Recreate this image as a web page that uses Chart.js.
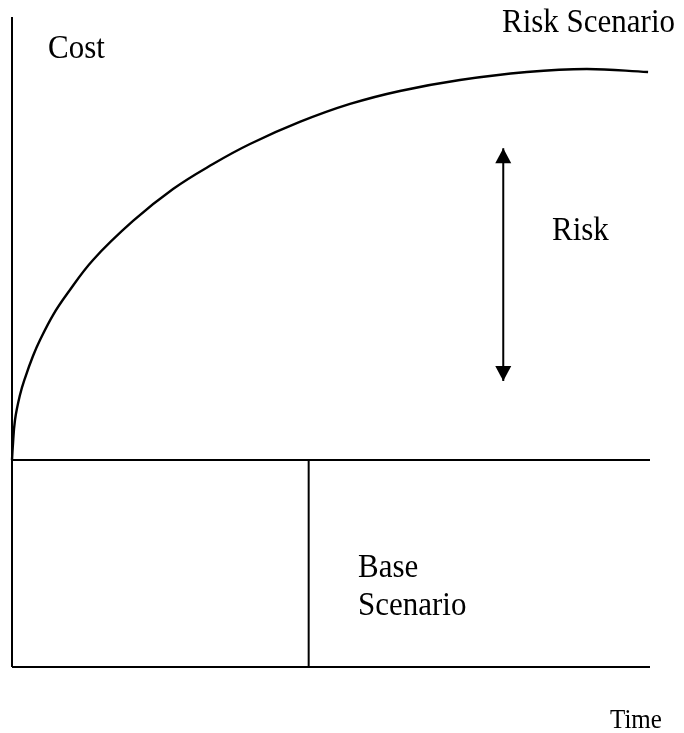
<!DOCTYPE html>
<html>
<head>
<meta charset="utf-8">
<script src="https://cdn.jsdelivr.net/npm/chart.js@4.4.0/dist/chart.umd.min.js"></script>
<style>
  html, body { margin: 0; padding: 0; background: #fff; }
  #wrap { width: 684px; height: 733px; }
</style>
</head>
<body>
<div id="wrap"><canvas id="chart" width="684" height="733"></canvas></div>
<script>
// Risk scenario curve (time 0-100, cost 0-100)
const curveTime = [0, 0.11, 0.47, 1.25, 2.04, 3.29, 4.39, 6.43, 8.62, 12.7, 18.97, 25.24, 31.5, 37.3, 45.1, 52.98, 60.8, 70.2, 80.7, 90.1, 99.7];
const curveCost = [31.85, 33.69, 38.0, 41.85, 44.46, 47.85, 50.31, 54.15, 57.38, 62.62, 68.62, 73.54, 77.38, 80.46, 83.85, 86.62, 88.62, 90.31, 91.54, 92.0, 91.54];

// base scenario level and the split of the base box
const baseCost = 31.85;
const splitTime = 46.5;

// the risk arrow (time, top and bottom tips)
const arrowTime = 77;
const arrowCost = [79.8, 44.0];

const axisRange = [0, 100];

const labelTexts = ['Cost', 'Risk Scenario', 'Risk', 'Base', 'Scenario', 'Time'];

function seg(x1, y1, x2, y2) {
  return [{ x: x1, y: y1 }, { x: x2, y: y2 }];
}

function lineSet(data, extra) {
  return Object.assign({
    data: data,
    borderColor: '#000',
    borderWidth: 2,
    pointRadius: 0,
    fill: false,
    clip: false
  }, extra || {});
}

const textPlugin = {
  id: 'texts',
  afterDraw(chart) {
    const ctx = chart.ctx;
    const spots = [
      { x: 48, y: 58, size: 31 },
      { x: 502, y: 32, size: 31 },
      { x: 552, y: 240, size: 31 },
      { x: 358, y: 577, size: 31 },
      { x: 358, y: 615, size: 31 },
      { x: 610, y: 728, size: 25 }
    ];
    ctx.save();
    ctx.fillStyle = '#000';
    ctx.textBaseline = 'alphabetic';
    ctx.textAlign = 'left';
    labelTexts.forEach((t, i) => {
      const s = spots[i];
      ctx.font = s.size + 'px "Liberation Serif", "Times New Roman", serif';
      // the original text is a little taller than plain Times
      ctx.save();
      ctx.translate(s.x, s.y);
      ctx.scale(1, 1.08);
      ctx.fillText(t, 0, 0);
      ctx.restore();
    });
    ctx.restore();
  }
};

const arrowPlugin = {
  id: 'arrowHeads',
  afterDatasetsDraw(chart) {
    const meta = chart.getDatasetMeta(4);
    const pts = meta.data;
    if (!pts || pts.length < 2) return;
    const ctx = chart.ctx;
    const w = 8, h = 15;
    ctx.save();
    ctx.fillStyle = '#000';
    // top head points up
    let p = pts[0];
    ctx.beginPath();
    ctx.moveTo(p.x, p.y);
    ctx.lineTo(p.x - w, p.y + h);
    ctx.lineTo(p.x + w, p.y + h);
    ctx.closePath();
    ctx.fill();
    // bottom head points down
    p = pts[1];
    ctx.beginPath();
    ctx.moveTo(p.x, p.y);
    ctx.lineTo(p.x - w, p.y - h);
    ctx.lineTo(p.x + w, p.y - h);
    ctx.closePath();
    ctx.fill();
    ctx.restore();
  }
};

const ctx = document.getElementById('chart').getContext('2d');
new Chart(ctx, {
  type: 'line',
  data: {
    datasets: [
      // cost axis
      lineSet(seg(0, axisRange[0], 0, axisRange[1])),
      // time axis
      lineSet(seg(axisRange[0], 0, axisRange[1], 0)),
      // base scenario level
      lineSet(seg(axisRange[0], baseCost, axisRange[1], baseCost)),
      // split line in base box
      lineSet(seg(splitTime, 0, splitTime, baseCost)),
      // risk arrow shaft
      lineSet(seg(arrowTime, arrowCost[0], arrowTime, arrowCost[1])),
      // risk scenario curve
      lineSet(curveTime.map((t, i) => ({ x: t, y: curveCost[i] })), {
        tension: 0.4,
        borderWidth: 2.4
      })
    ]
  },
  options: {
    responsive: false,
    animation: false,
    layout: { padding: { left: 12, right: 34, top: 17, bottom: 66 } },
    scales: {
      x: { type: 'linear', min: axisRange[0], max: axisRange[1], display: false },
      y: { type: 'linear', min: axisRange[0], max: axisRange[1], display: false }
    },
    plugins: {
      legend: { display: false },
      tooltip: { enabled: false }
    }
  },
  plugins: [arrowPlugin, textPlugin]
});
</script>
</body>
</html>
